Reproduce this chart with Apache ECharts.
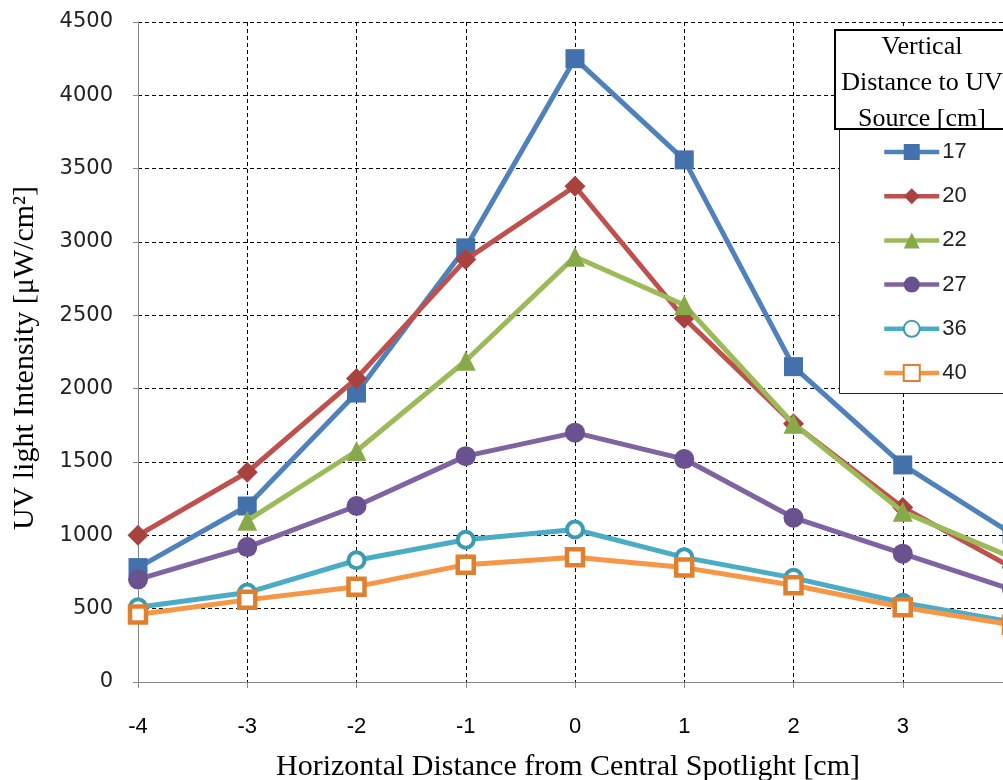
<!DOCTYPE html>
<html>
<head>
<meta charset="utf-8">
<script src="https://cdn.jsdelivr.net/npm/echarts@6/dist/echarts.min.js"></script>
<style>
html,body{margin:0;padding:0;background:#fff;overflow:hidden;width:1003px;height:780px;}
#chart{width:1040px;height:780px;}
</style>
</head>
<body>
<div id="chart"></div>
<script>
// ---- data ----
const xValues = [-4, -3, -2, -1, 0, 1, 2, 3, 4];
const seriesNames = ['17', '20', '22', '27', '36', '40'];
const s17 = [780, 1200, 1970, 2960, 4250, 3560, 2150, 1480, 1010];
const s20 = [1000, 1430, 2070, 2880, 3380, 2480, 1760, 1190, 780];
const s22 = [null, 1100, 1575, 2190, 2900, 2570, 1760, 1160, 850];
const s27 = [700, 920, 1200, 1540, 1700, 1520, 1120, 875, 630];
const s36 = [510, 610, 830, 970, 1040, 850, 710, 540, 410];
const s40 = [460, 560, 650, 800, 850, 780, 660, 510, 390];
const yTicks = {min: 0, max: 4500, step: 500};
const xTicks = {min: -4, max: 4, step: 1};
const legendTitle = 'Vertical\nDistance to UV\nSource [cm]';
const xTitle = 'Horizontal Distance from Central Spotlight [cm]';
const yTitle = 'UV light Intensity [μW/cm²]';

const allValues = [s17, s20, s22, s27, s36, s40];
const styles = [
  {line: '#4F81BD', symbol: 'rect', size: 19, fill: '#4271AC', border: '#4271AC', bw: 0},
  {line: '#C0504D', symbol: 'diamond', size: 21, fill: '#A8423F', border: '#A8423F', bw: 0},
  {line: '#9BBB59', symbol: 'triangle', size: 20, fill: '#88A94A', border: '#88A94A', bw: 0},
  {line: '#8064A2', symbol: 'circle', size: 20, fill: '#6A5190', border: '#6A5190', bw: 0},
  {line: '#4BACC6', symbol: 'circle', size: 16, fill: '#ffffff', border: '#3C9AB3', bw: 4},
  {line: '#F79646', symbol: 'rect', size: 16, fill: '#ffffff', border: '#E0802F', bw: 4.5}
];

const series = seriesNames.map((name, i) => ({
  name: name,
  type: 'line',
  data: xValues.map((x, j) => [x, allValues[i][j] == null ? '-' : allValues[i][j]]),
  symbol: styles[i].symbol,
  symbolSize: styles[i].size,
  showAllSymbol: true,
  connectNulls: false,
  lineStyle: {color: styles[i].line, width: 5},
  itemStyle: {color: styles[i].fill, borderColor: styles[i].border, borderWidth: styles[i].bw},
  emphasis: {disabled: true},
  z: 3 + i * 0.01,
  animation: false
}));

const chart = echarts.init(document.getElementById('chart'), null, {renderer: 'canvas'});
chart.setOption({
  animation: false,
  backgroundColor: '#ffffff',
  grid: {left: 138, top: 22, width: 874, height: 660, containLabel: false},
  xAxis: {
    type: 'value', min: xTicks.min, max: xTicks.max, interval: xTicks.step,
    axisLine: {show: true, onZero: false, lineStyle: {color: '#868686', width: 1}},
    axisTick: {show: true, length: 6, lineStyle: {color: '#868686'}},
    axisLabel: {color: '#000', fontFamily: '"Liberation Sans Narrow","Liberation Sans",sans-serif', fontSize: 22, margin: 34},
    splitLine: {show: true, lineStyle: {color: '#000', type: [4, 3], width: 1}}
  },
  yAxis: {
    type: 'value', min: yTicks.min, max: yTicks.max, interval: yTicks.step,
    axisLine: {show: true, onZero: false, lineStyle: {color: '#868686', width: 1}},
    axisTick: {show: true, length: 5, lineStyle: {color: '#868686'}},
    axisLabel: {color: '#222', fontFamily: '"DejaVu Sans",sans-serif', fontSize: 21, margin: 25, formatter: v => String(v)},
    splitLine: {show: true, lineStyle: {color: '#000', type: [4, 3], width: 1}}
  },
  legend: {
    show: true,
    orient: 'vertical',
    left: 882, top: 141, padding: 0,
    itemWidth: 55, itemHeight: 20, itemGap: 22.2,
    lineStyle: {width: 4.5},
    textStyle: {color: '#222', fontFamily: '"Liberation Sans",sans-serif', fontSize: 22, padding: [0, 0, 0, -2]},
    data: seriesNames,
    selectedMode: false,
    z: 300
  },
  graphic: [
    {type: 'rect', z: 200, shape: {x: 839.5, y: 129.5, width: 200, height: 264}, style: {fill: '#fff', stroke: '#222', lineWidth: 1}},
    {type: 'rect', z: 201, shape: {x: 835, y: 30, width: 200, height: 99}, style: {fill: '#fff', stroke: '#000', lineWidth: 2}},
    {type: 'text', z: 202, x: 922, y: 29, style: {text: legendTitle, fill: '#000', font: '26px "Liberation Serif", serif', lineHeight: 36, align: 'center', verticalAlign: 'top'}},
    {type: 'text', z: 10, x: 568, y: 767, style: {text: xTitle, fill: '#000', font: '30px "Liberation Serif", serif', align: 'center', verticalAlign: 'middle'}},
    {type: 'text', z: 10, x: 25, y: 358, rotation: Math.PI / 2, style: {text: yTitle, fill: '#000', font: '30px "Liberation Serif", serif', align: 'center', verticalAlign: 'middle'}}
  ],
  series: series
});
</script>
</body>
</html>
